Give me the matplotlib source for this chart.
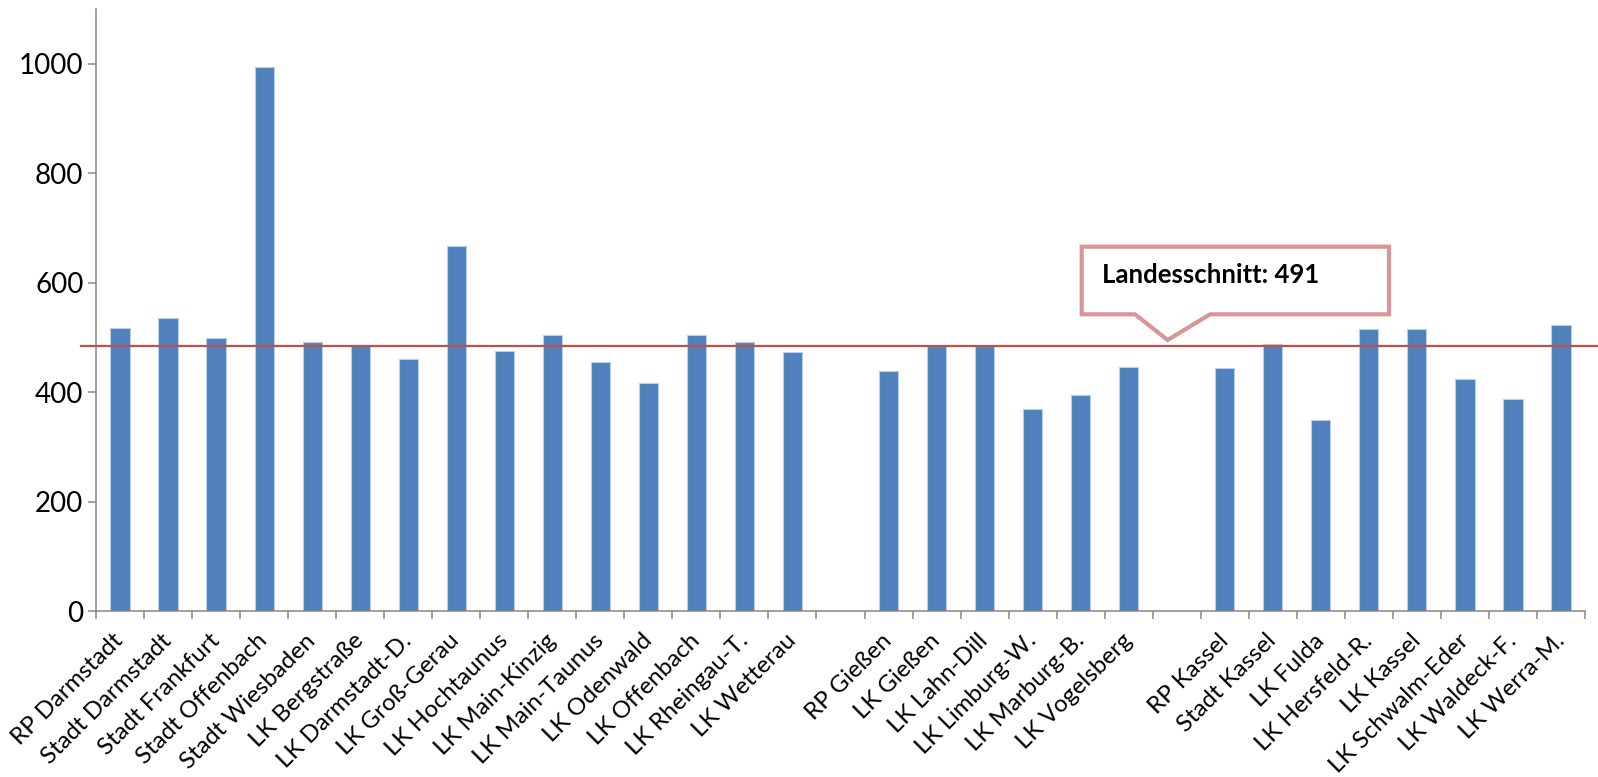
import matplotlib
matplotlib.use('Agg')
import matplotlib.pyplot as plt
from matplotlib.patches import Polygon
import numpy as np

plt.rcParams['font.family'] = ['Lato', 'DejaVu Sans']

# RP Darmstadt
labels_da = ['RP Darmstadt', 'Stadt Darmstadt', 'Stadt Frankfurt', 'Stadt Offenbach',
             'Stadt Wiesbaden', 'LK Bergstraße', 'LK Darmstadt-D.', 'LK Groß-Gerau',
             'LK Hochtaunus', 'LK Main-Kinzig', 'LK Main-Taunus', 'LK Odenwald',
             'LK Offenbach', 'LK Rheingau-T.', 'LK Wetterau']
values_da = [517, 535, 500, 994, 492, 486, 460, 668, 476, 504, 455, 416, 505, 492, 473]

# RP Gießen
labels_gi = ['RP Gießen', 'LK Gießen', 'LK Lahn-Dill', 'LK Limburg-W.',
             'LK Marburg-B.', 'LK Vogelsberg']
values_gi = [439, 484, 484, 370, 394, 446]

# RP Kassel
labels_ks = ['RP Kassel', 'Stadt Kassel', 'LK Fulda', 'LK Hersfeld-R.', 'LK Kassel',
             'LK Schwalm-Eder', 'LK Waldeck-F.', 'LK Werra-M.']
values_ks = [444, 489, 350, 516, 515, 425, 387, 523]

landesschnitt_line = 485
landesschnitt_text = 'Landesschnitt: 491'

# one empty slot between the groups
labels = labels_da + [''] + labels_gi + [''] + labels_ks
values = values_da + [np.nan] + values_gi + [np.nan] + values_ks
x = np.arange(len(labels))

fig = plt.figure(figsize=(15.98, 7.77), dpi=100)
ax = fig.add_axes([96 / 1598, 1 - 611 / 777, 1489 / 1598, 601.7 / 777])

ax.bar(x, values, width=0.4, color='#4f81bd', edgecolor='#b9cde5', linewidth=0.8, zorder=2)

ax.set_xlim(-0.5, len(labels) - 0.5)
ax.set_ylim(0, 1100)
ax.set_yticks([0, 200, 400, 600, 800, 1000])
ax.set_xticks(x)
ax.set_xticklabels(labels, rotation=45, ha='right', va='center', rotation_mode='anchor')
ax.set_xticks(np.arange(len(labels) + 1) - 0.5, minor=True)
ax.tick_params(axis='x', which='major', length=0, pad=19, labelsize=17.3)
ax.tick_params(axis='x', which='minor', length=6, width=1.1, color='#868686')
ax.tick_params(axis='y', length=6, width=1.1, color='#868686', labelsize=20, pad=3)

for s in ['top', 'right']:
    ax.spines[s].set_visible(False)
for s in ['left', 'bottom']:
    ax.spines[s].set_color('#868686')
    ax.spines[s].set_linewidth(1.1)

# average line, running a bit past the axes on both sides
trans = ax.get_yaxis_transform()
ax.plot([-0.01, 1.01], [landesschnitt_line, landesschnitt_line], transform=trans,
        color='#c0504d', linewidth=1.6, clip_on=False, zorder=3)

# callout box
bubble = [(0.662, 0.6055), (0.8684, 0.6055), (0.8684, 0.4931), (0.7482, 0.4931),
          (0.7197, 0.4504), (0.6978, 0.4931), (0.662, 0.4931)]
ax.add_patch(Polygon(bubble, closed=True, transform=ax.transAxes, facecolor='white',
                     edgecolor='#d99694', linewidth=3, zorder=4, clip_on=False))
ax.text(0.6754, 0.5584, landesschnitt_text, transform=ax.transAxes, fontsize=18.5,
        fontweight='bold', va='center', ha='left', zorder=5)

fig.savefig('out.png', dpi=100)
